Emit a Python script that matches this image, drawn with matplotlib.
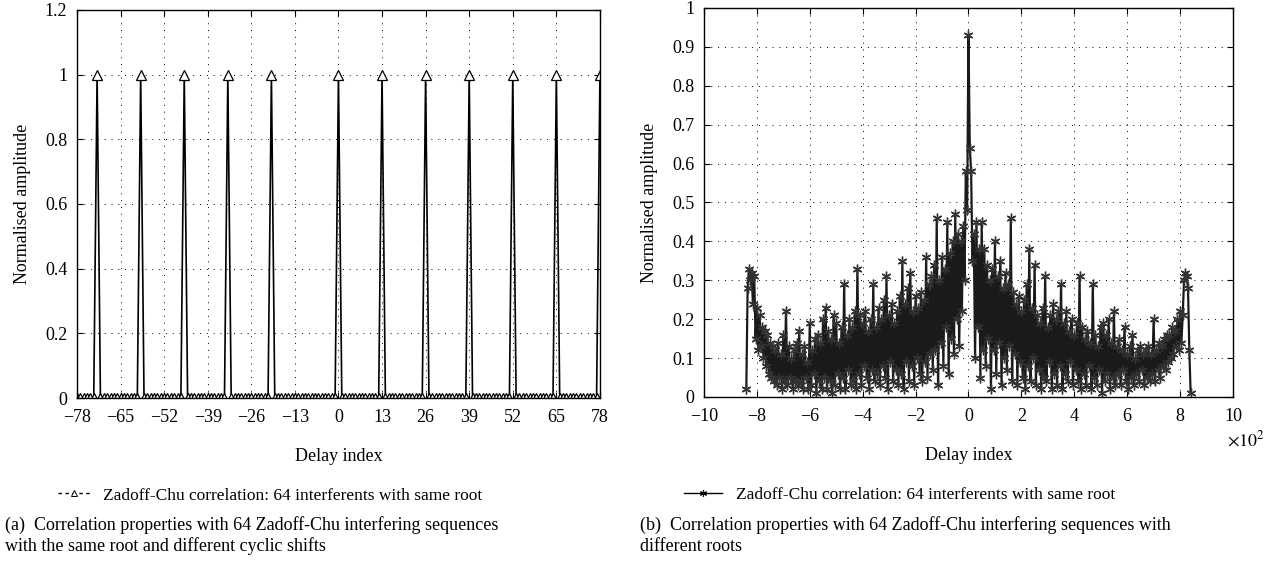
import numpy as np
import matplotlib.pyplot as plt
from matplotlib.lines import Line2D
from matplotlib.ticker import FuncFormatter

plt.rcParams['font.family'] = ['Liberation Serif', 'DejaVu Serif']
plt.rcParams['mathtext.fontset'] = 'stix'

# (a) same root, different cyclic shifts
delay_a = np.arange(-78, 79)
peak_delays = [-72, -59, -46, -33, -20, 0, 13, 26, 39, 52, 65, 78]
amp_a = np.where(np.isin(delay_a, peak_delays), 1.0, 0.0)

# (b) different roots, delay index -840..840 read every 5 samples
delay_b = np.arange(-840, 845, 5)
amp_b = [
    0.02, 0.28, 0.33, 0.30, 0.32, 0.24, 0.31, 0.15, 0.23, 0.12, 0.21, 0.13, 0.18, 0.10, 0.17, 0.08, 0.16, 0.06, 0.14, 0.05,
    0.13, 0.04, 0.12, 0.03, 0.14, 0.05, 0.11, 0.02, 0.16, 0.04, 0.22, 0.03, 0.13, 0.05, 0.10, 0.02, 0.12, 0.04, 0.14, 0.03,
    0.17, 0.04, 0.11, 0.02, 0.13, 0.05, 0.09, 0.02, 0.19, 0.03, 0.12, 0.06, 0.15, 0.01, 0.16, 0.04, 0.14, 0.02, 0.20, 0.05,
    0.23, 0.02, 0.17, 0.04, 0.15, 0.01, 0.21, 0.03, 0.19, 0.06, 0.14, 0.02, 0.18, 0.05, 0.29, 0.02, 0.16, 0.07, 0.20, 0.03,
    0.18, 0.04, 0.22, 0.02, 0.33, 0.06, 0.21, 0.03, 0.19, 0.08, 0.22, 0.05, 0.17, 0.02, 0.20, 0.07, 0.29, 0.04, 0.18, 0.06,
    0.23, 0.03, 0.20, 0.08, 0.25, 0.05, 0.31, 0.02, 0.21, 0.09, 0.24, 0.04, 0.19, 0.07, 0.22, 0.03, 0.26, 0.06, 0.35, 0.02,
    0.24, 0.09, 0.28, 0.04, 0.32, 0.08, 0.22, 0.03, 0.26, 0.10, 0.23, 0.06, 0.27, 0.04, 0.25, 0.09, 0.36, 0.05, 0.29, 0.11,
    0.31, 0.07, 0.34, 0.12, 0.46, 0.03, 0.30, 0.14, 0.36, 0.08, 0.33, 0.18, 0.45, 0.06, 0.37, 0.15, 0.40, 0.11, 0.47, 0.20,
    0.42, 0.13, 0.40, 0.22, 0.44, 0.30, 0.58, 0.48, 0.93, 0.64, 0.58, 0.35, 0.42, 0.10, 0.45, 0.18, 0.38, 0.05, 0.45, 0.12,
    0.38, 0.08, 0.34, 0.15, 0.30, 0.02, 0.33, 0.12, 0.40, 0.06, 0.31, 0.14, 0.35, 0.03, 0.28, 0.10, 0.32, 0.07, 0.29, 0.13,
    0.46, 0.04, 0.27, 0.11, 0.24, 0.03, 0.26, 0.09, 0.22, 0.05, 0.25, 0.02, 0.29, 0.08, 0.38, 0.04, 0.23, 0.10, 0.34, 0.03,
    0.21, 0.07, 0.19, 0.02, 0.23, 0.05, 0.31, 0.04, 0.18, 0.09, 0.21, 0.02, 0.24, 0.06, 0.20, 0.03, 0.22, 0.08, 0.29, 0.02,
    0.19, 0.06, 0.22, 0.04, 0.17, 0.09, 0.20, 0.03, 0.16, 0.07, 0.19, 0.04, 0.31, 0.02, 0.18, 0.06, 0.15, 0.03, 0.17, 0.08,
    0.14, 0.02, 0.29, 0.05, 0.16, 0.03, 0.13, 0.07, 0.18, 0.01, 0.19, 0.04, 0.16, 0.06, 0.20, 0.02, 0.14, 0.05, 0.22, 0.03,
    0.13, 0.06, 0.15, 0.03, 0.12, 0.07, 0.18, 0.04, 0.11, 0.02, 0.13, 0.05, 0.16, 0.03, 0.10, 0.06, 0.12, 0.04, 0.13, 0.07,
    0.11, 0.03, 0.12, 0.05, 0.13, 0.04, 0.11, 0.06, 0.20, 0.04, 0.12, 0.07, 0.14, 0.05, 0.13, 0.08, 0.15, 0.07, 0.16, 0.09,
    0.16, 0.10, 0.18, 0.11, 0.17, 0.13, 0.20, 0.12, 0.22, 0.14, 0.21, 0.30, 0.32, 0.31, 0.28, 0.12, 0.01,
]

legend_label = 'Zadoff-Chu correlation: 64 interferents with same root'
FS = 13
grid_kw = dict(color='black', linewidth=0.7, linestyle=(0, (1, 6)))
asterisk = (6, 2, 0)


def num_fmt(v, p):
    s = '%g' % round(v, 1)
    return s.replace('-', '\u2212')


fig = plt.figure(figsize=(12.83, 5.69), dpi=100)
ax1 = fig.add_axes([0.060, 0.3005, 0.4076, 0.682])
ax2 = fig.add_axes([0.5487, 0.3023, 0.4123, 0.6837])

# left panel
ax1.plot(delay_a, amp_a, color='black', linewidth=1.2,
         marker='^', markersize=7, markerfacecolor='white', markeredgecolor='black',
         markeredgewidth=0.9)
ax1.set_xlim(-78, 78)
ax1.set_ylim(0, 1.2)
ax1.set_xticks(np.arange(-78, 79, 13))
ax1.set_yticks(np.arange(0, 1.21, 0.2))
ax1.xaxis.set_major_formatter(FuncFormatter(num_fmt))
ax1.yaxis.set_major_formatter(FuncFormatter(num_fmt))
ax1.set_xlabel('Delay index', fontsize=FS, labelpad=16)
ax1.set_ylabel('Normalised amplitude', fontsize=FS, labelpad=10)
handle_a = Line2D([], [], color='black', linewidth=1.0, linestyle=(0, (2.5, 2.5)),
                  marker='^', markersize=5, markerfacecolor='white',
                  markeredgecolor='black', markeredgewidth=0.7)
ax1.legend([handle_a], [legend_label], loc='upper center', bbox_to_anchor=(0.37, -0.19),
           frameon=False, fontsize=FS - 0.5, handlelength=1.8, handletextpad=0.8)

# right panel
ax2.plot(delay_b, amp_b, color='#1a1a1a', linewidth=1.6, marker=asterisk, markersize=7,
         markeredgecolor='#333333', markeredgewidth=1.0)
ax2.set_xlim(-1000, 1000)
ax2.set_ylim(0, 1)
ax2.set_xticks(np.arange(-1000, 1001, 200))
ax2.set_yticks(np.arange(0, 1.01, 0.1))
ax2.xaxis.set_major_formatter(FuncFormatter(lambda v, p: num_fmt(round(v / 100), p)))
ax2.yaxis.set_major_formatter(FuncFormatter(num_fmt))
ax2.set_xlabel('Delay index', fontsize=FS, labelpad=16)
ax2.set_ylabel('Normalised amplitude', fontsize=FS, labelpad=10)
handle_b = Line2D([], [], color='black', linewidth=1.0, marker=asterisk, markersize=5,
                  markeredgewidth=0.8)
ax2.legend([handle_b], [legend_label], loc='upper center', bbox_to_anchor=(0.37, -0.19),
           frameon=False, fontsize=FS - 0.5, handlelength=2.2, handletextpad=0.8)
ax2.text(0.989, -0.11, r'$\times 10^2$', transform=ax2.transAxes, fontsize=FS,
         ha='left', va='center')

for ax in (ax1, ax2):
    ax.grid(True, **grid_kw)
    ax.tick_params(direction='in', top=True, right=True, labelsize=FS, length=4)
    ax.tick_params(axis='x', pad=8)
    ax.tick_params(axis='y', pad=7)
    for s in ax.spines.values():
        s.set_linewidth(1.0)

fig.text(0.004, 0.059, '(a)  Correlation properties with 64 Zadoff-Chu interfering sequences\n'
         'with the same root and different cyclic shifts', fontsize=FS,
         va='center', linespacing=1.25)
fig.text(0.499, 0.059, '(b)  Correlation properties with 64 Zadoff-Chu interfering sequences with\n'
         'different roots', fontsize=FS, va='center', linespacing=1.25)

fig.savefig('out.png', dpi=100)
